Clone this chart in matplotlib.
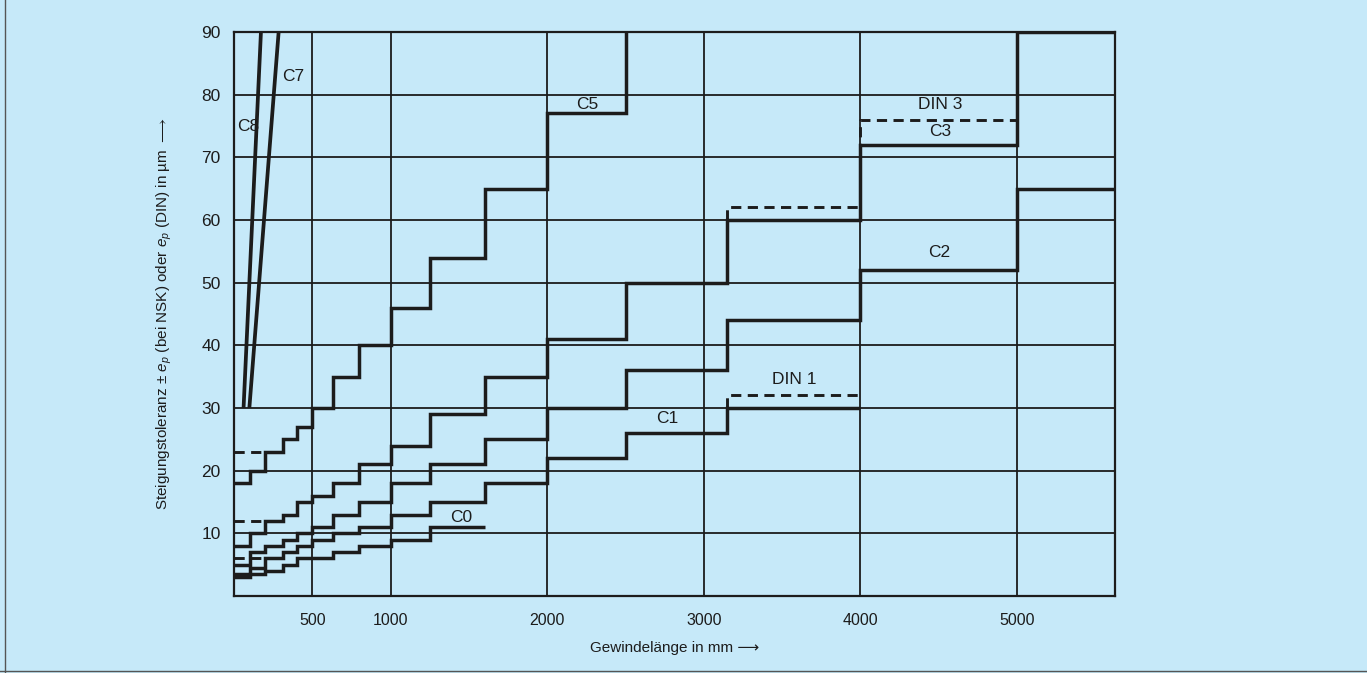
import matplotlib
matplotlib.use("Agg")
import matplotlib.pyplot as plt
from matplotlib.lines import Line2D

# colours / fonts
BG = "#c6e9f9"
INK = "#1c1c1c"
plt.rcParams['font.family'] = ['Liberation Sans', 'DejaVu Sans']
plt.rcParams['mathtext.fontset'] = 'custom'
plt.rcParams['mathtext.rm'] = 'Liberation Sans'
plt.rcParams['mathtext.it'] = 'Liberation Sans:italic'
plt.rcParams['mathtext.fallback'] = 'stixsans'

# thread length classes (mm)
edges = [0, 100, 200, 315, 400, 500, 630, 800, 1000, 1250, 1600,
         2000, 2500, 3150, 4000, 5000, 6300]

# lead tolerance ep in um per length class
c0 = [3, 3.5, 4, 5, 6, 6, 7, 8, 9, 11]
c1 = [3.5, 4.5, 6, 7, 8, 9, 10, 11, 13, 15, 18, 22, 26, 30]
c2 = [5, 7, 8, 9, 10, 11, 13, 15, 18, 21, 25, 30, 36, 44, 52, 65]
c3 = [8, 10, 12, 13, 15, 16, 18, 21, 24, 29, 35, 41, 50, 60, 72, 90]
c5 = [18, 20, 23, 25, 27, 30, 35, 40, 46, 54, 65, 77, 93]

# DIN values where they differ (dashed)
din_short_x = [0, 200]
din1_short = 6
din3_short = 12
din5_short = 23
din1_long_x = [3150, 3150, 4000]
din1_long_y = [30, 32, 32]
din3_long_x = [3150, 3150, 4000, 4000, 5000]
din3_long_y = [60, 62, 62, 76, 76]

# C7 / C8 straight lines
c8_x = [61, 172]
c8_y = [30, 90]
c7_x = [98, 285]
c7_y = [30, 90]

# label texts and positions
labels = [("C8", 92, 75), ("C7", 375, 82.9), ("C5", 2258, 78.4),
          ("DIN 3", 4510, 78.4), ("C3", 4510, 74.1), ("C2", 4500, 54.8),
          ("DIN 1", 3580, 34.5), ("C1", 2768, 28.4), ("C0", 1450, 12.5)]

xticks = [500, 1000, 2000, 3000, 4000, 5000]
yticks = [10, 20, 30, 40, 50, 60, 70, 80, 90]

fig = plt.figure(figsize=(13.67, 6.73), dpi=100)
fig.patch.set_facecolor(BG)
ax = fig.add_axes([0.17118, 0.11441, 0.64448, 0.83804])
ax.set_facecolor(BG)

lw = 2.5
for vals in [c0, c1, c2, c3, c5]:
    ax.stairs(vals, edges[:len(vals) + 1], baseline=None, color=INK, lw=lw, zorder=3)

dash = (0, (3.5, 2.2))
for v in [din1_short, din3_short, din5_short]:
    ax.plot(din_short_x, [v, v], color=INK, lw=2.1, ls=dash, zorder=3)
ax.plot(din1_long_x, din1_long_y, color=INK, lw=2.1, ls=dash, zorder=3)
ax.plot(din3_long_x, din3_long_y, color=INK, lw=2.1, ls=dash, zorder=3)

ax.plot(c8_x, c8_y, color=INK, lw=2.7, zorder=3, solid_capstyle='butt')
ax.plot(c7_x, c7_y, color=INK, lw=2.7, zorder=3, solid_capstyle='butt')

for s, x, y in labels:
    ax.text(x, y, s, ha='center', va='center', fontsize=12.5, color=INK, zorder=4)

ax.set_xlim(0, 5625)
ax.set_ylim(0, 90)
ax.set_xticks(xticks)
ax.set_yticks(yticks)
ax.set_xticklabels([str(t) for t in xticks], fontsize=11.5)
ax.set_yticklabels([str(t) for t in yticks], fontsize=12.5)
ax.tick_params(axis='both', length=0, colors=INK)
ax.tick_params(axis='x', pad=12.5)
ax.tick_params(axis='y', pad=9.5)
ax.grid(True, color=INK, lw=1.3)
ax.set_axisbelow(True)
for sp in ax.spines.values():
    sp.set_color(INK)
    sp.set_linewidth(1.6)

ax.set_xlabel("Gewindelänge in mm ⟶", fontsize=11, labelpad=9, color=INK)
ax.set_ylabel("Steigungstoleranz ± $e_p$ (bei NSK) oder $e_p$ (DIN) in µm $\\longrightarrow$",
              fontsize=11, labelpad=20, color=INK)

# thin frame lines of the scanned page
fig.add_artist(Line2D([5 / 1367, 5 / 1367], [0, 1], color="#555555", lw=1))
fig.add_artist(Line2D([0, 1], [2 / 673, 2 / 673], color="#555555", lw=1))

fig.savefig("out.png", dpi=100, facecolor=BG)
